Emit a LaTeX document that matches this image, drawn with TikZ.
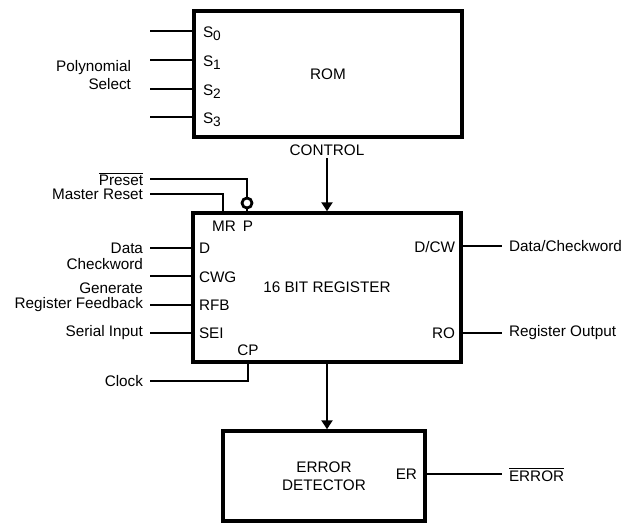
\documentclass[tikz,border=0pt]{standalone}
\usepackage{fontspec}
\setmainfont{Liberation Sans}
\usetikzlibrary{arrows.meta}

\begin{document}
\begin{tikzpicture}[x=0.02cm, y=-0.02cm,
        font=\fontsize{8.7}{10.5}\selectfont,
        boxnode/.style={rectangle, draw=black, line width=0.07cm, inner sep=0pt},
        pinnode/.style={inner sep=0pt, outer sep=0.06cm},
        leftnode/.style={anchor=east, align=right, inner sep=0pt, outer sep=0.14cm},
        rightnode/.style={anchor=west, align=left, inner sep=0pt, outer sep=0.14cm},
        bubblenode/.style={circle, draw=black, line width=0.055cm, minimum size=0.2cm, inner sep=0pt},
        wire/.style={line width=0.055cm},
        arrowwire/.style={line width=0.055cm, -{Triangle[width=0.22cm,length=0.18cm]}},
    ]
    \useasboundingbox (0,0) rectangle (625,522);
    %Nodes
    \node[boxnode, minimum width=5.36cm, minimum height=2.52cm] (romnode) at (328,74) {ROM};
    \node[boxnode, minimum width=5.36cm, minimum height=2.98cm] (regnode) at (327,287.5) {16 BIT REGISTER};
    \node[boxnode, minimum width=4.04cm, minimum height=1.8cm, align=center] (errnode) at (324,476) {ERROR\\DETECTOR};
    \node[pinnode] (ctrlnode) at (327,150) {CONTROL};
    \node[leftnode] (polynode) at (138,75) {Polynomial\\Select};
    \node[leftnode] (presetnode) at (150,179) {$\overline{\mbox{Preset}}$};
    \node[leftnode] (mrnode) at (150,194) {Master Reset};
    \node[leftnode] (datanode) at (150,248) {Data};
    \node[leftnode] (cwgnode) at (150,276) {Checkword\\[3pt]Generate};
    \node[leftnode] (rfbnode) at (150,305) {Register Feedback};
    \node[leftnode] (seinode) at (150,333) {Serial Input};
    \node[leftnode] (clknode) at (150,381) {Clock};
    \node[rightnode] (dcwnode) at (502,246) {Data/Checkword};
    \node[rightnode] (ronode) at (502,333) {Register Output};
    \node[rightnode] (errornode) at (502,474) {$\overline{\mbox{ERROR}}$};
    \node[bubblenode] (pbubble) at (247,203) {};
    %Pins
    \node[pinnode] (mrpinlbl) at (224,226) {MR};
    \node[pinnode] (ppinlbl) at (248,226) {P};
    \node[pinnode, anchor=west] (dpinlbl) at (196,248) {D};
    \node[pinnode, anchor=west] (cwgpinlbl) at (196,277) {CWG};
    \node[pinnode, anchor=west] (rfbpinlbl) at (196,305) {RFB};
    \node[pinnode, anchor=west] (seipinlbl) at (196,333) {SEI};
    \node[pinnode] (cppinlbl) at (248,350) {CP};
    \node[pinnode, anchor=east] (dcwpinlbl) at (458,247) {D/CW};
    \node[pinnode, anchor=east] (ropinlbl) at (458,333) {RO};
    \node[pinnode, anchor=east] (erpinlbl) at (420,474) {ER};
    \coordinate (mrpin) at (223,213);
    \coordinate (cppin) at (248,362);
    %Lines
    \foreach \i/\y in {0/31,1/60,2/89,3/117} {
        \coordinate (sin\i) at (150,\y);
        \draw[wire] (sin\i) -- (sin\i -| romnode.west);
        \node[pinnode, anchor=base west] (spin\i) at (200,\y+6) {S\raisebox{-2.2pt}{\fontsize{7.8}{8}\selectfont\i}};
    }
    \draw[arrowwire] (ctrlnode.south) -- (ctrlnode.south |- regnode.north);
    \draw[wire] (presetnode.east) -| (pbubble.north);
    \draw[wire] (pbubble.south) -- (pbubble.south |- regnode.north);
    \draw[wire] (mrnode.east) -| (mrpin);
    \draw[wire] (datanode.east) -- (datanode -| regnode.west);
    \draw[wire] (cwgnode.east) -- (cwgnode -| regnode.west);
    \draw[wire] (rfbnode.east) -- (rfbnode -| regnode.west);
    \draw[wire] (seinode.east) -- (seinode -| regnode.west);
    \draw[wire] (clknode.east) -| (cppin);
    \draw[wire] (dcwnode -| regnode.east) -- (dcwnode.west);
    \draw[wire] (ronode -| regnode.east) -- (ronode.west);
    \draw[arrowwire] (regnode.south) -- (regnode.south |- errnode.north);
    \draw[wire] (errornode -| errnode.east) -- (errornode.west);
\end{tikzpicture}
\end{document}
